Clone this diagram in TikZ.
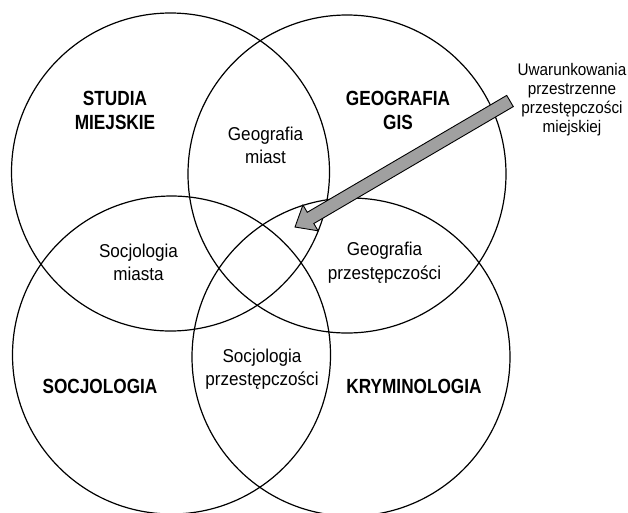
\documentclass[tikz,border=0pt]{standalone}
\usepackage{fontspec}
\setmainfont{Liberation Sans}
\newfontfamily\boldlab[FakeStretch=0.84]{Liberation Sans}
\newfontfamily\reglab[FakeStretch=0.92]{Liberation Sans}
\newfontfamily\notelab[FakeStretch=0.91]{Liberation Sans}
\usetikzlibrary{calc}
\definecolor{arrowgray}{RGB}{160,160,160}
\begin{document}
\begin{tikzpicture}[x=1pt,y=-1pt,
  ring/.style={draw=black,line width=1.2pt,circle,minimum size=318pt,inner sep=0pt},
  disc/.style={font=\boldlab\bfseries\fontsize{20.5}{24}\selectfont,anchor=base,inner sep=0pt},
  over/.style={font=\reglab\fontsize{18.6}{23}\selectfont,anchor=base,inner sep=0pt},
  note/.style={font=\notelab\fontsize{16.8}{19.5}\selectfont,anchor=base,inner sep=0pt},
  blockarrow/.style={draw=black,line width=0.9pt,fill=arrowgray,line join=miter}]
\useasboundingbox (0,0) rectangle (628,512);
% circles
\node[ring] (tl) at (170.5,172) {};
\node[ring] (tr) at (347,174) {};
\node[ring] (bl) at (171.5,355) {};
\node[ring] (br) at (351,357) {};
% block arrow
\coordinate (tail) at (510,101);
\coordinate (tip) at (295,227);
\coordinate (base) at ($(tip)!18pt!(tail)$);
\draw[blockarrow]
  ($(tail)!6.5pt!90:(tip)$) -- ($(base)!6.5pt!-90:(tail)$) -- ($(base)!15pt!-90:(tail)$)
  -- (tip) -- ($(base)!15pt!90:(tail)$) -- ($(base)!6.5pt!90:(tail)$)
  -- ($(tail)!6.5pt!-90:(tip)$) -- cycle;
% discipline labels
\node[disc] (st1) at (115,105.3) {STUDIA};
\node[disc] (st2) at (115,129.3) {MIEJSKIE};
\node[disc] (ge1) at (398,105.3) {GEOGRAFIA};
\node[disc] (ge2) at (398,129.3) {GIS};
\node[disc] (so) at (100,393) {SOCJOLOGIA};
\node[disc] (kr) at (414,393) {KRYMINOLOGIA};
% overlap labels
\node[over] (gm1) at (265.5,140) {Geografia};
\node[over] (gm2) at (265.5,163) {miast};
\node[over] (sm1) at (138.5,257) {Socjologia};
\node[over] (sm2) at (138.5,280) {miasta};
\node[over] (gp1) at (384.5,255) {Geografia};
\node[over] (gp2) at (384.5,279) {przestępczości};
\node[over] (sp1) at (262,362.5) {Socjologia};
\node[over] (sp2) at (262,385.5) {przestępczości};
% annotation
\node[note] (u1) at (572,75) {Uwarunkowania};
\node[note] (u2) at (572,94) {przestrzenne};
\node[note] (u3) at (572,113) {przestępczości};
\node[note] (u4) at (572,132) {miejskiej};
\end{tikzpicture}
\end{document}
